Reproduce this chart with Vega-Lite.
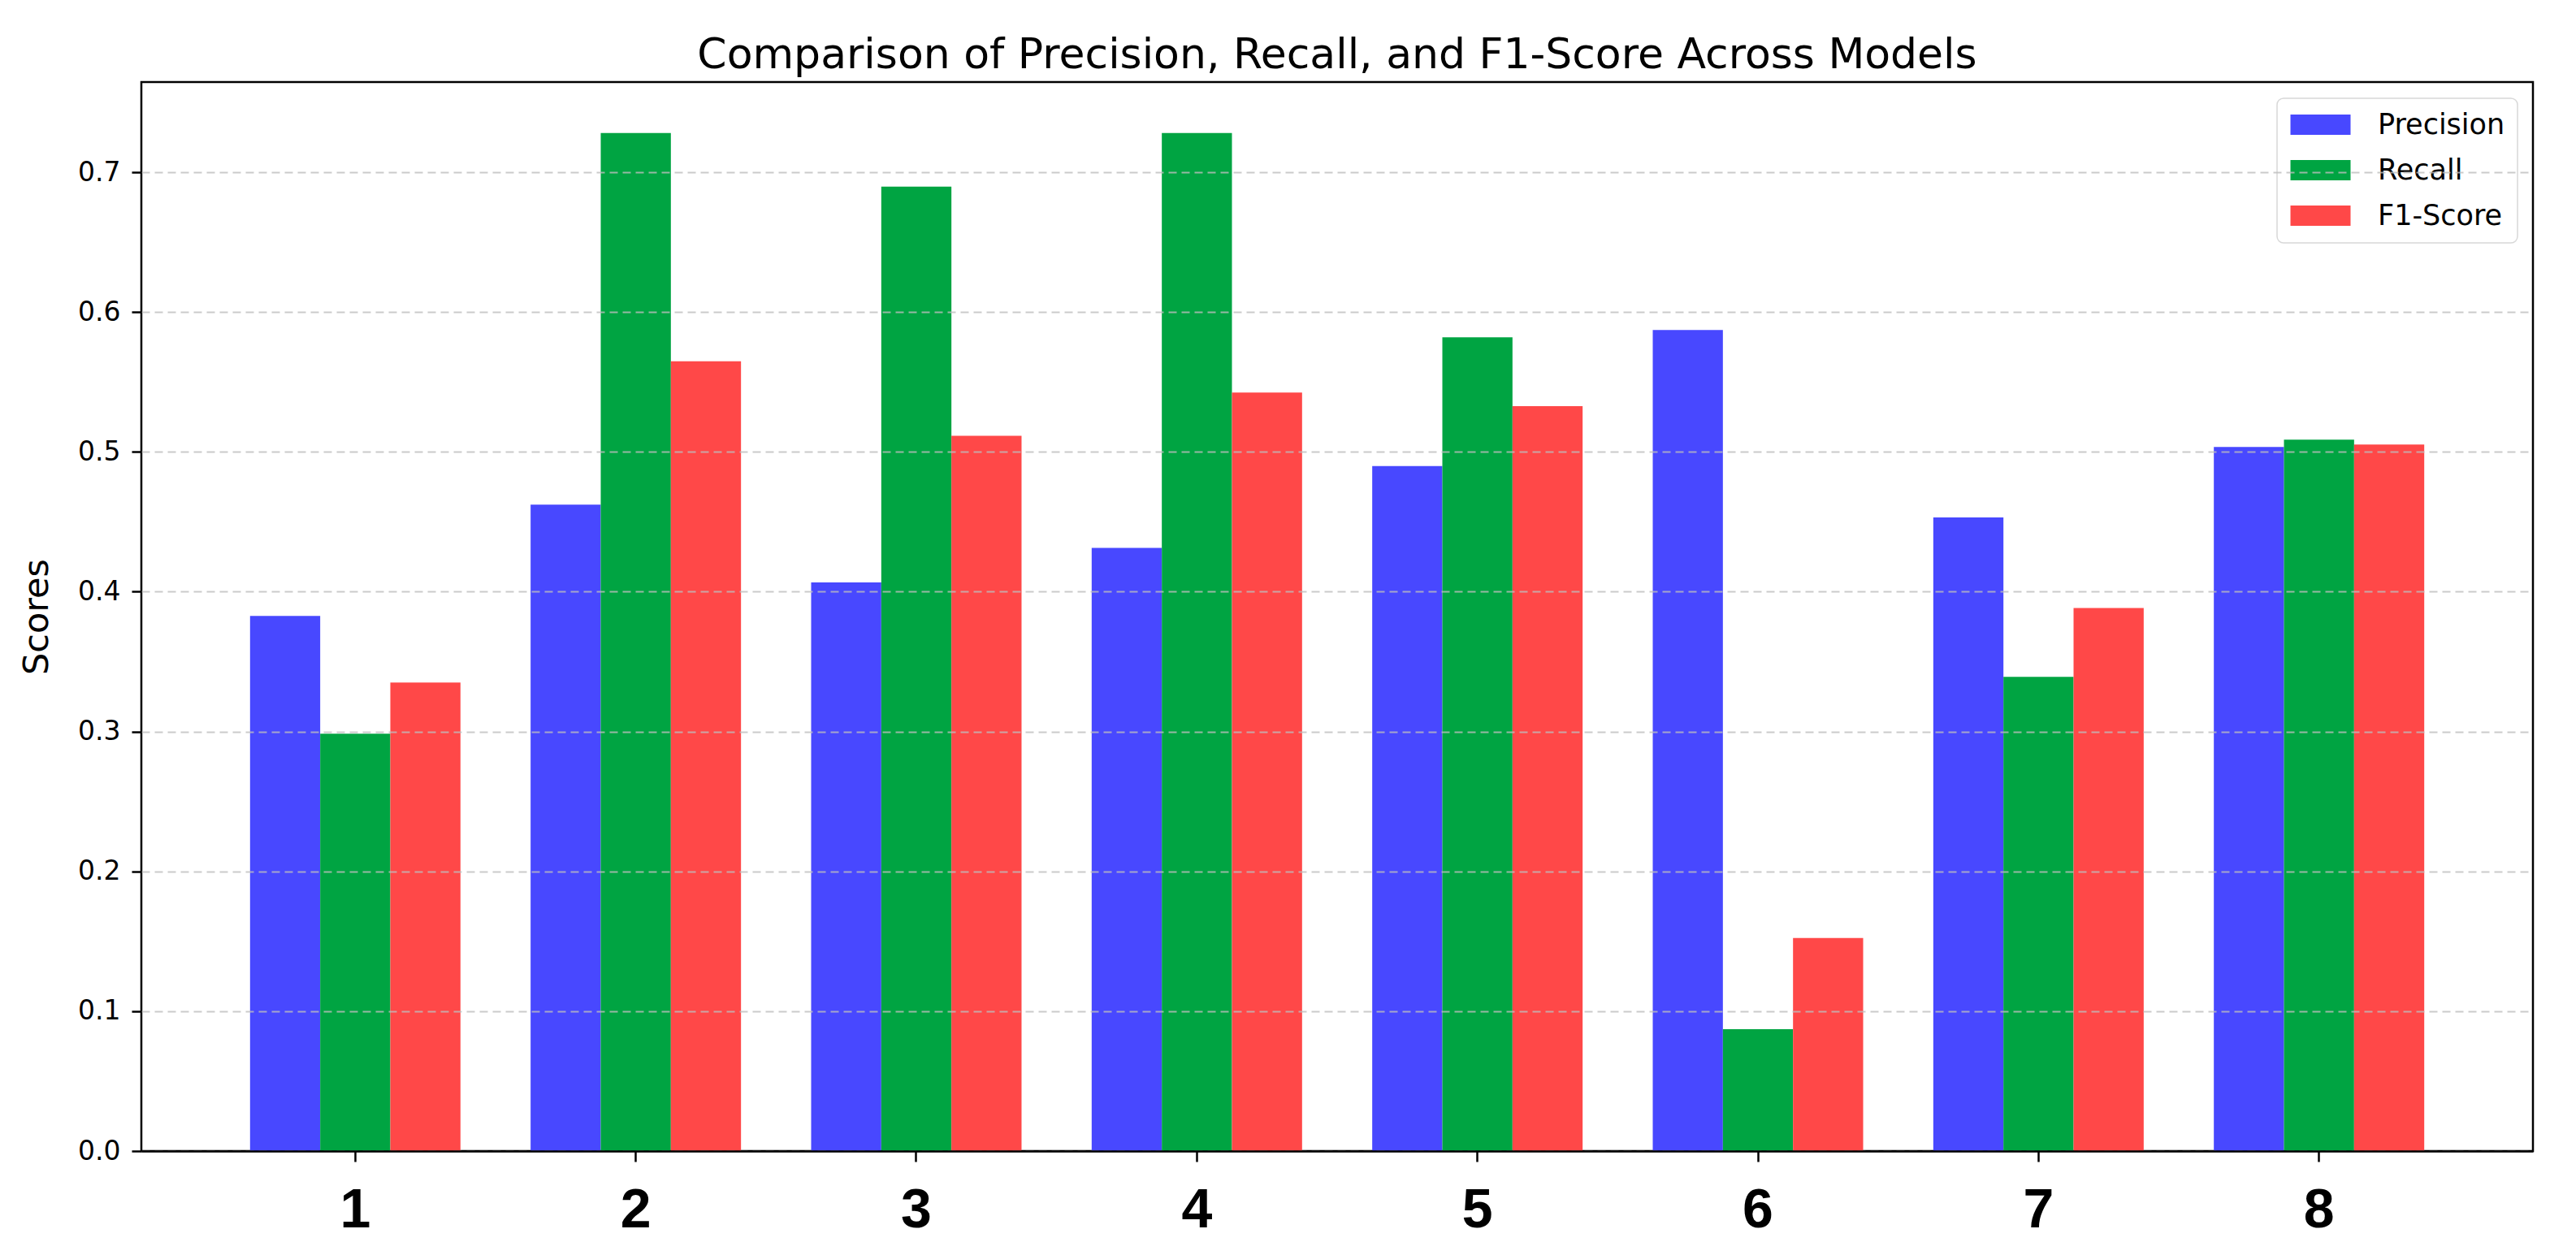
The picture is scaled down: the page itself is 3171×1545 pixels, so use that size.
{
  "$schema": "https://vega.github.io/schema/vega-lite/v6.json",
  "autosize": "none",
  "padding": {"left": 174, "top": 101, "right": 53, "bottom": 128},
  "width": 2944,
  "height": 1316,
  "background": "white",
  "title": {
    "text": "Comparison of Precision, Recall, and F1-Score Across Models",
    "font": "DejaVu Sans",
    "fontSize": 52,
    "fontWeight": "normal",
    "color": "black",
    "offset": 6
  },
  "data": {
    "values": [
      {"model": 1, "metric": "Precision", "score": 0.3827},
      {"model": 1, "metric": "Recall", "score": 0.2985},
      {"model": 1, "metric": "F1-Score", "score": 0.3351},
      {"model": 2, "metric": "Precision", "score": 0.4623},
      {"model": 2, "metric": "Recall", "score": 0.7281},
      {"model": 2, "metric": "F1-Score", "score": 0.5648},
      {"model": 3, "metric": "Precision", "score": 0.4067},
      {"model": 3, "metric": "Recall", "score": 0.6897},
      {"model": 3, "metric": "F1-Score", "score": 0.5115},
      {"model": 4, "metric": "Precision", "score": 0.4313},
      {"model": 4, "metric": "Recall", "score": 0.7281},
      {"model": 4, "metric": "F1-Score", "score": 0.5425},
      {"model": 5, "metric": "Precision", "score": 0.4898},
      {"model": 5, "metric": "Recall", "score": 0.582},
      {"model": 5, "metric": "F1-Score", "score": 0.5327},
      {"model": 6, "metric": "Precision", "score": 0.5872},
      {"model": 6, "metric": "Recall", "score": 0.0871},
      {"model": 6, "metric": "F1-Score", "score": 0.1524},
      {"model": 7, "metric": "Precision", "score": 0.4531},
      {"model": 7, "metric": "Recall", "score": 0.3391},
      {"model": 7, "metric": "F1-Score", "score": 0.3884},
      {"model": 8, "metric": "Precision", "score": 0.5035},
      {"model": 8, "metric": "Recall", "score": 0.5087},
      {"model": 8, "metric": "F1-Score", "score": 0.5052}
    ]
  },
  "mark": {"type": "bar", "strokeWidth": 0},
  "encoding": {
    "x": {
      "field": "model",
      "type": "ordinal",
      "scale": {"paddingInner": 0.25, "paddingOuter": 0.3875},
      "axis": {
        "title": null,
        "labelAngle": 0,
        "labelFont": "Liberation Sans",
        "labelFontWeight": "bold",
        "labelFontSize": 68,
        "labelColor": "black",
        "labelPadding": 26,
        "tickSize": 13,
        "tickWidth": 2.5,
        "tickColor": "black",
        "domain": true,
        "domainColor": "black",
        "domainWidth": 2.5,
        "grid": false,
        "zindex": 3
      }
    },
    "xOffset": {
      "field": "metric",
      "type": "nominal",
      "scale": {"domain": ["Precision", "Recall", "F1-Score"], "paddingInner": 0, "paddingOuter": 0}
    },
    "y": {
      "field": "score",
      "type": "quantitative",
      "scale": {"domain": [0, 0.7645], "nice": false, "zero": true},
      "axis": {
        "title": "Scores",
        "titleFont": "DejaVu Sans",
        "titleFontSize": 43,
        "titleFontWeight": "normal",
        "titleColor": "black",
        "titlePadding": 28,
        "values": [0, 0.1, 0.2, 0.3, 0.4, 0.5, 0.6, 0.7],
        "format": ".1f",
        "labelFont": "DejaVu Sans",
        "labelFontSize": 33,
        "labelColor": "black",
        "labelPadding": 14,
        "tickSize": 12,
        "tickWidth": 2.5,
        "tickColor": "black",
        "domain": false,
        "grid": true,
        "gridColor": "#bdbdbd",
        "gridOpacity": 0.8,
        "gridDash": [10, 6],
        "gridWidth": 1.8,
        "zindex": 1
      }
    },
    "color": {
      "field": "metric",
      "type": "nominal",
      "scale": {
        "domain": ["Precision", "Recall", "F1-Score"],
        "range": ["#4848FF", "#00A442", "#FF4848"]
      },
      "legend": {
        "title": null,
        "orient": "none",
        "legendX": 2629,
        "legendY": 20,
        "symbolType": "M-2.5,-0.85H2.5V0.85H-2.5Z",
        "symbolSize": 876,
        "symbolOffset": 21,
        "symbolStrokeWidth": 0,
        "symbolOpacity": 1,
        "labelFont": "DejaVu Sans",
        "labelFontSize": 35,
        "labelColor": "black",
        "labelOffset": 53,
        "rowPadding": 20,
        "padding": 15,
        "strokeColor": "#d8d8d8",
        "cornerRadius": 8,
        "fillColor": "white"
      }
    }
  },
  "config": {
    "view": {"stroke": "black", "strokeWidth": 2.5},
    "legend": {"strokeWidth": 1.5}
  }
}
